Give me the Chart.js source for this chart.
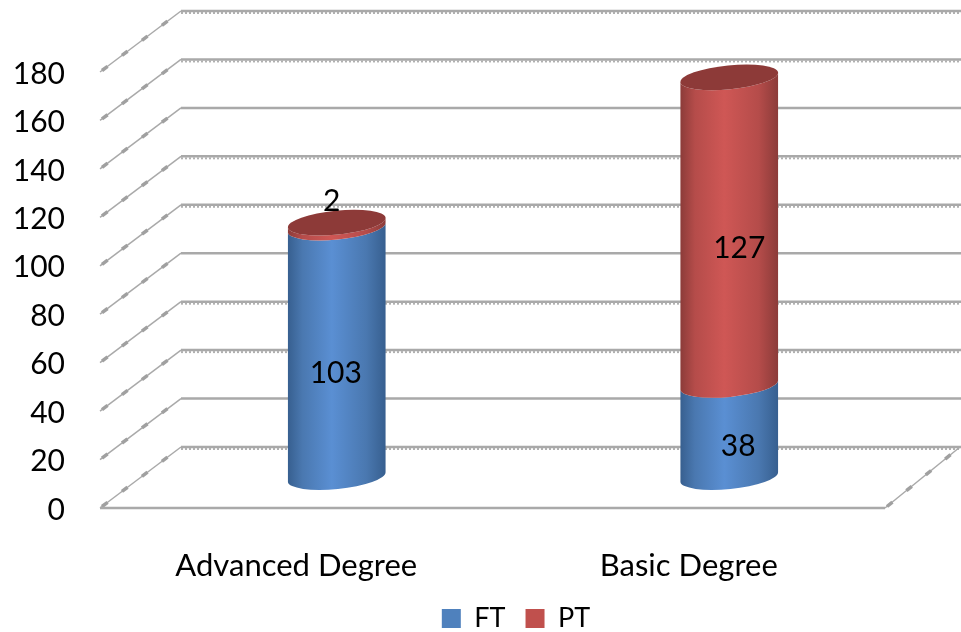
<!DOCTYPE html>
<html>
<head>
<meta charset="utf-8">
<script src="https://cdn.jsdelivr.net/npm/chart.js@4"></script>
<style>
  html, body { margin: 0; padding: 0; background: #fff; }
  canvas { display: block; }
</style>
</head>
<body>
<canvas id="myChart" width="961" height="632"></canvas>
<script>
const categories = ["Advanced Degree", "Basic Degree"];
const ftValues = [103, 38];
const ptValues = [2, 127];

const fontName = "Lato, 'Open Sans', sans-serif";
const depthX = 81;      // how far the back wall sits from the front axis
const depthY = -61;
const wallRight = 961;
const floorEndDx = 75;
const barShiftX = 40.5; // cylinders stand half way into the floor
const barShiftY = -31;
const tilt = -0.1;
const capHeight = 12;

// the 2 label sits above the cap, the others just off centre
const labelNudge = {
  "0-0": [-1, -10], "1-0": [9, -16],
  "0-1": [-5, -55], "1-1": [10, -14]
};
// wall lines that look rough in the original
const roughLines = [0, 2, 3, 5, 6, 8, 9];

function cylinderGradient(ctx, left, right, edge, mid, light) {
  const g = ctx.createLinearGradient(left, 0, right, 0);
  g.addColorStop(0, edge);
  g.addColorStop(0.15, mid);
  g.addColorStop(0.45, light);
  g.addColorStop(0.8, mid);
  g.addColorStop(1, edge);
  return g;
}

const shades = [
  ["#375f8f", "#4a78b0", "#5a8fd3"],
  ["#8b3b39", "#b54c4a", "#cf5755"]
];

function drawWalls(chart) {
  const ctx = chart.ctx;
  const yScale = chart.scales.y;
  const area = chart.chartArea;
  ctx.save();
  yScale.ticks.forEach((tick, i) => {
    const y = yScale.getPixelForValue(tick.value);
    ctx.strokeStyle = "#a9a9a9";
    ctx.lineWidth = 1.5;
    ctx.setLineDash([]);
    ctx.beginPath();
    ctx.moveTo(area.left, y);
    ctx.lineTo(area.left + depthX, y + depthY);
    ctx.stroke();
    // wobbly blobs along the slanted lines
    ctx.strokeStyle = "#a0a0a0";
    ctx.lineWidth = 3.5;
    ctx.setLineDash([7, 18]);
    ctx.beginPath();
    ctx.moveTo(area.left + 2, y - 1.5);
    ctx.lineTo(area.left + depthX, y + depthY);
    ctx.stroke();

    // back wall line
    ctx.strokeStyle = "#a9a9a9";
    ctx.lineWidth = 2.5;
    ctx.setLineDash([]);
    ctx.beginPath();
    ctx.moveTo(area.left + depthX, y + depthY);
    ctx.lineTo(wallRight, y + depthY);
    ctx.stroke();
    if (roughLines.includes(i)) {
      ctx.strokeStyle = "#b0b0b0";
      ctx.lineWidth = 2;
      ctx.setLineDash([2, 2]);
      ctx.beginPath();
      ctx.moveTo(area.left + depthX, y + depthY + 2);
      ctx.lineTo(wallRight, y + depthY + 2);
      ctx.stroke();
    }
  });

  // floor
  const y0 = yScale.getPixelForValue(0);
  ctx.strokeStyle = "#a9a9a9";
  ctx.lineWidth = 2.5;
  ctx.setLineDash([]);
  ctx.beginPath();
  ctx.moveTo(area.left, y0);
  ctx.lineTo(area.right, y0);
  ctx.stroke();
  ctx.lineWidth = 1.5;
  ctx.beginPath();
  ctx.moveTo(area.right, y0);
  ctx.lineTo(area.right + floorEndDx, y0 + depthY);
  ctx.stroke();
  ctx.strokeStyle = "#a0a0a0";
  ctx.lineWidth = 3.5;
  ctx.setLineDash([7, 18]);
  ctx.beginPath();
  ctx.moveTo(area.right + 2, y0 - 1.5);
  ctx.lineTo(area.right + floorEndDx, y0 + depthY);
  ctx.stroke();
  ctx.restore();
}

function drawCylinders(chart) {
  const ctx = chart.ctx;
  ctx.save();
  chart.data.datasets.forEach((ds, d) => {
    chart.getDatasetMeta(d).data.forEach((bar) => {
      const cx = bar.x + barShiftX;
      const rx = bar.width / 2;
      const top = bar.y + barShiftY;
      const bottom = bar.base + barShiftY;
      ctx.fillStyle = cylinderGradient(ctx, cx - rx, cx + rx, shades[d][0], shades[d][1], shades[d][2]);
      ctx.beginPath();
      ctx.ellipse(cx, bottom, rx, capHeight, tilt, 0, Math.PI, false);
      ctx.ellipse(cx, top, rx, capHeight, tilt, Math.PI, 0, true);
      ctx.closePath();
      ctx.fill();
      if (d === chart.data.datasets.length - 1) {
        ctx.fillStyle = "#8d3a38";
        ctx.beginPath();
        ctx.ellipse(cx, top, rx, capHeight, tilt, 0, Math.PI * 2);
        ctx.fill();
      }
    });
  });
  ctx.restore();
}

function drawLabels(chart) {
  const ctx = chart.ctx;
  ctx.save();
  ctx.font = "30px " + fontName;
  ctx.fillStyle = "#000";
  ctx.textAlign = "center";
  ctx.textBaseline = "middle";
  chart.data.datasets.forEach((ds, d) => {
    chart.getDatasetMeta(d).data.forEach((bar, i) => {
      const nudge = labelNudge[i + "-" + d];
      ctx.fillText(ds.data[i], bar.x + barShiftX + nudge[0], (bar.y + bar.base) / 2 + nudge[1]);
    });
  });
  // value axis numbers, a touch lower than the scale would put them
  ctx.textAlign = "right";
  chart.scales.y.ticks.forEach((tick) => {
    ctx.fillText(tick.label, 65, chart.scales.y.getPixelForValue(tick.value) + 2);
  });
  ctx.restore();
}

const cylinderPlugin = {
  id: "cylinders",
  afterLayout(chart) {
    // legend sits right of the canvas centre in the original
    chart.legend.left += 73.5;
    chart.legend.right += 73.5;
  },
  beforeDatasetsDraw(chart) {
    drawWalls(chart);
    drawCylinders(chart);
    drawLabels(chart);
    return false;
  }
};

new Chart(document.getElementById("myChart").getContext("2d"), {
  type: "bar",
  plugins: [cylinderPlugin],
  data: {
    labels: categories,
    datasets: [
      { label: "FT", data: ftValues, backgroundColor: "#4f81bd" },
      { label: "PT", data: ptValues, backgroundColor: "#c0504d" }
    ]
  },
  options: {
    responsive: false,
    animation: false,
    barPercentage: 0.25,
    categoryPercentage: 1,
    layout: { padding: { top: 72, right: 76, left: 0, bottom: -10 } },
    plugins: {
      tooltip: { enabled: false },
      legend: {
        position: "bottom",
        labels: {
          boxWidth: 19,
          boxHeight: 19,
          padding: 20,
          color: "#000",
          font: { family: fontName, size: 27 }
        }
      }
    },
    scales: {
      x: {
        stacked: true,
        grid: { display: false },
        border: { display: false },
        afterFit(scale) { scale.height = 77; },
        ticks: {
          padding: 31,
          color: "#000",
          maxRotation: 0,
          font: { family: fontName, size: 31 }
        }
      },
      y: {
        stacked: true,
        min: 0,
        max: 180,
        grid: { display: false },
        border: { display: false },
        afterFit(scale) { scale.width = 100; },
        ticks: { stepSize: 20, display: false }
      }
    }
  }
});
</script>
</body>
</html>
